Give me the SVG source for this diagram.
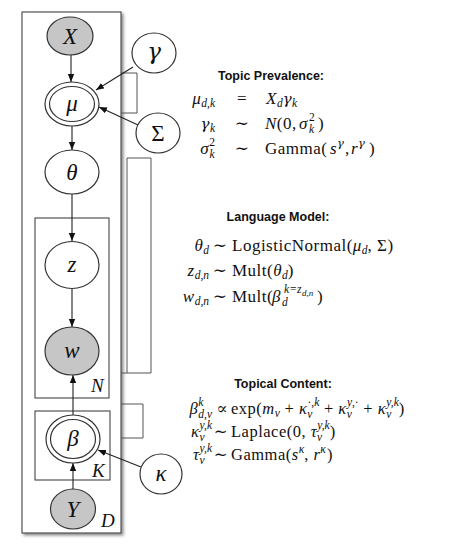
<svg xmlns="http://www.w3.org/2000/svg" width="474" height="560" viewBox="0 0 474 560">
<defs>
<style>
.nd{fill:#fff;stroke:#333;stroke-width:1.2}
.gr{fill:#c6c6c6}
.pl{fill:none;stroke:#444;stroke-width:1.1}
.br{fill:none;stroke:#555;stroke-width:1}
.cn{stroke:#222;stroke-width:1.1;fill:none;marker-end:url(#ah)}
.lb{font-family:"Liberation Serif","DejaVu Serif",serif;font-style:italic;font-size:23px;fill:#111;text-anchor:middle}
.up{font-style:normal}
.pt{font-family:"Liberation Serif","DejaVu Serif",serif;font-style:italic;font-size:19px;fill:#111}
.h{font-family:"Liberation Sans",Arial,sans-serif;font-weight:bold;font-size:12.5px;fill:#111;text-anchor:middle}
.m{font-family:"Liberation Serif","DejaVu Serif",serif;fill:#111;letter-spacing:0.5px}
.g{font-family:"DejaVu Serif",serif}
.a{font-size:17px}
.b{font-size:17px}
.c{font-size:16.5px}
.i{font-style:italic}
.s{font-size:11.5px;letter-spacing:0}
.ss{font-size:9px;letter-spacing:0}
.e{text-anchor:end}
.mid{text-anchor:middle}
</style>
<marker id="ah" viewBox="0 0 10 10" refX="10" refY="5" markerWidth="8" markerHeight="8" orient="auto" markerUnits="userSpaceOnUse">
<path d="M0,1 L10,5 L0,9 z" fill="#111"/>
</marker>
<filter id="sh" x="-10%" y="-5%" width="130%" height="115%">
<feDropShadow dx="2" dy="2" stdDeviation="1.5" flood-color="#000" flood-opacity="0.45"/>
</filter>
</defs>
<rect width="474" height="560" fill="#fff"/>

<g id="plates">
<rect id="plate-D" x="22" y="12" width="99" height="521" fill="#fff" stroke="#444" stroke-width="1.1" filter="url(#sh)"/>
<rect id="plate-N" class="pl" x="35" y="218" width="74" height="180"/>
<rect id="plate-K" class="pl" x="35" y="411" width="75" height="69"/>
<text class="pt" x="91" y="392">N</text>
<text class="pt" x="92" y="477">K</text>
<text class="pt" x="101" y="527">D</text>
</g>

<g id="brackets">
<path class="br" d="M121,73 H137 V113 H121"/>
<path class="br" d="M127,158 H151 V373 H121 M127,158 V373"/>
<path class="br" d="M121,404 H143 V438 H121"/>
</g>

<g id="connectors">
<line class="cn" x1="71" y1="55" x2="71" y2="82"/>
<line class="cn" x1="133" y1="67" x2="96" y2="90"/>
<line class="cn" x1="138" y1="125" x2="99" y2="107"/>
<line class="cn" x1="72" y1="126" x2="72" y2="150"/>
<line class="cn" x1="72" y1="194" x2="72" y2="241"/>
<line class="cn" x1="72" y1="289" x2="72" y2="327"/>
<line class="cn" x1="73" y1="415" x2="73" y2="375"/>
<line class="cn" x1="73" y1="489" x2="73" y2="463"/>
<line class="cn" x1="141" y1="467" x2="98" y2="450"/>
</g>

<g id="node-X"><ellipse class="nd gr" cx="70" cy="36" rx="23" ry="19"/><text class="lb" x="70" y="44">X</text></g>
<g id="node-mu"><ellipse class="nd" cx="72" cy="104" rx="27" ry="22"/><ellipse class="nd" cx="72" cy="104" rx="22.5" ry="17.5"/><text class="lb" x="72" y="111">μ</text></g>
<g id="node-gamma"><ellipse class="nd" cx="154" cy="53" rx="22" ry="20"/><text class="lb g" x="154" y="59">γ</text></g>
<g id="node-Sigma"><ellipse class="nd" cx="158" cy="133" rx="22" ry="20"/><text class="lb up" x="158" y="141">Σ</text></g>
<g id="node-theta"><ellipse class="nd" cx="72" cy="172" rx="27" ry="22"/><text class="lb" x="72" y="180">θ</text></g>
<g id="node-z"><ellipse class="nd" cx="72" cy="265" rx="27" ry="23.5"/><text class="lb" x="72" y="272">z</text></g>
<g id="node-w"><ellipse class="nd gr" cx="72" cy="351" rx="27" ry="24"/><text class="lb" x="72" y="358">w</text></g>
<g id="node-beta"><ellipse class="nd" cx="73" cy="439" rx="27" ry="24"/><ellipse class="nd" cx="73" cy="439" rx="22.5" ry="19.5"/><text class="lb" x="73" y="446">β</text></g>
<g id="node-Y"><ellipse class="nd gr" cx="73" cy="509" rx="22.5" ry="20"/><text class="lb" x="73" y="517">Y</text></g>
<g id="node-kappa"><ellipse class="nd" cx="161" cy="474" rx="21" ry="20"/><text class="lb" x="161" y="481">κ</text></g>

<g id="topic-prevalence">
<text class="h" x="271" y="80">Topic Prevalence:</text>
<text class="m a e" x="215" y="104"><tspan class="i">μ</tspan><tspan class="s i" dy="3">d,k</tspan></text>
<text class="m a mid" x="242" y="104">=</text>
<text class="m a" x="266" y="104"><tspan class="i">X</tspan><tspan class="s i" dy="3">d</tspan><tspan class="i g" dy="-3" font-size="15">γ</tspan><tspan class="s i" dy="3">k</tspan></text>
<text class="m a e" x="215" y="129"><tspan class="i g" font-size="15">γ</tspan><tspan class="s i" dy="3">k</tspan></text>
<text class="m a mid" x="242" y="129">∼</text>
<text class="m a" x="265" y="129"><tspan class="i">N</tspan>(0,<tspan class="i" x="299">σ</tspan><tspan class="s" x="309" dy="-8">2</tspan><tspan class="s i" x="309" dy="12">k</tspan><tspan x="318" dy="-4">)</tspan></text>
<text class="m a e" x="215" y="154"><tspan class="i">σ</tspan><tspan class="s" dy="-8">2</tspan><tspan class="s i" dx="-5.5" dy="12">k</tspan></text>
<text class="m a mid" x="242" y="154">∼</text>
<text class="m a" x="265" y="154">Gamma(<tspan class="i" x="330">s</tspan><tspan class="s i g" font-size="10.5" x="337" dy="-7">γ</tspan><tspan x="345" dy="7">,</tspan><tspan class="i" x="351">r</tspan><tspan class="s i g" font-size="10.5" x="358" dy="-7">γ</tspan><tspan x="369" dy="7">)</tspan></text>
</g>

<g id="language-model">
<text class="h" x="278" y="221">Language Model:</text>
<text class="m b e" x="209" y="251"><tspan class="i">θ</tspan><tspan class="s i" dy="3">d</tspan></text>
<text class="m b mid" x="220" y="251">∼</text>
<text class="m b" x="232" y="251">LogisticNormal(<tspan class="i">μ</tspan><tspan class="s i" dy="3">d</tspan><tspan dy="-3">, Σ)</tspan></text>
<text class="m b e" x="209" y="276"><tspan class="i">z</tspan><tspan class="s i" dy="3">d,n</tspan></text>
<text class="m b mid" x="220" y="276">∼</text>
<text class="m b" x="232" y="276">Mult(<tspan class="i">θ</tspan><tspan class="s i" dy="3">d</tspan><tspan dy="-3">)</tspan></text>
<text class="m b e" x="209" y="302"><tspan class="i">w</tspan><tspan class="s i" dy="3">d,n</tspan></text>
<text class="m b mid" x="220" y="302">∼</text>
<text class="m b" x="232" y="302">Mult(<tspan class="i" x="272">β</tspan><tspan class="s i" x="282" dy="4">d</tspan><tspan class="s i" x="284" dy="-13">k</tspan><tspan class="s" x="290">=</tspan><tspan class="s i" x="297">z</tspan><tspan class="ss i" x="302" dy="3">d,n</tspan><tspan x="317" dy="6">)</tspan></text>
</g>

<g id="topical-content">
<text class="h" x="283" y="388">Topical Content:</text>
<text class="m c e" x="212" y="414"><tspan class="i">β</tspan><tspan class="s i" dy="-8">k</tspan><tspan class="s i" dx="-5" dy="12">d,v</tspan></text>
<text class="m c mid" x="222" y="414">∝</text>
<text class="m c" x="231" y="414">exp(<tspan class="i">m</tspan><tspan class="s i" dy="3">v</tspan><tspan dy="-3"> + </tspan><tspan class="i">κ</tspan><tspan class="s i" dy="4">v</tspan><tspan class="s" dx="-5" dy="-12">·,</tspan><tspan class="s i">k</tspan><tspan dy="8"> + </tspan><tspan class="i">κ</tspan><tspan class="s i" dy="4">v</tspan><tspan class="s i" dx="-5" dy="-12">y</tspan><tspan class="s">,·</tspan><tspan dy="8"> + </tspan><tspan class="i">κ</tspan><tspan class="s i" dy="4">v</tspan><tspan class="s i" dx="-5" dy="-12">y,k</tspan><tspan dy="8">)</tspan></text>
<text class="m c e" x="212" y="437"><tspan class="i">κ</tspan><tspan class="s i" dy="4">v</tspan><tspan class="s i" dx="-5" dy="-12">y,k</tspan></text>
<text class="m c mid" x="221" y="437">∼</text>
<text class="m c" x="231" y="437">Laplace(0, <tspan class="i">τ</tspan><tspan class="s i" dy="4">v</tspan><tspan class="s i" dx="-5" dy="-12">y,k</tspan><tspan dy="8">)</tspan></text>
<text class="m c e" x="212" y="460"><tspan class="i">τ</tspan><tspan class="s i" dy="4">v</tspan><tspan class="s i" dx="-5" dy="-12">y,k</tspan></text>
<text class="m c mid" x="221" y="460">∼</text>
<text class="m c" x="231" y="460">Gamma(<tspan class="i">s</tspan><tspan class="s i" dy="-7">κ</tspan><tspan dy="7">, </tspan><tspan class="i">r</tspan><tspan class="s i" dy="-7">κ</tspan><tspan dy="7" dx="1">)</tspan></text>
</g>
</svg>
